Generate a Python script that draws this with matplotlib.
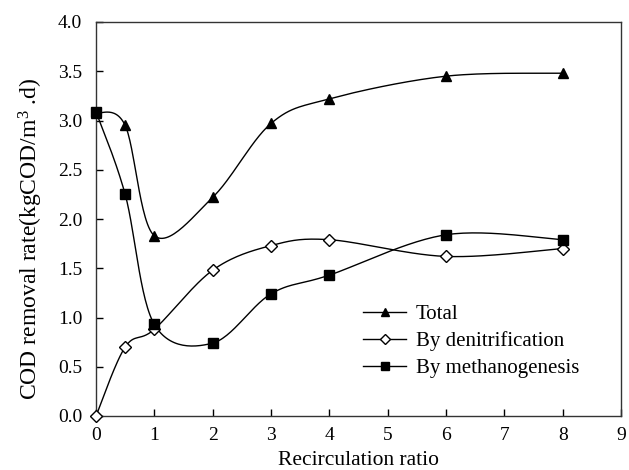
import numpy as np
import matplotlib
matplotlib.use("Agg")
import matplotlib.pyplot as plt
from matplotlib.lines import Line2D

plt.rcParams['font.family'] = ['Liberation Serif', 'DejaVu Serif']
plt.rcParams['mathtext.fontset'] = 'custom'
plt.rcParams['mathtext.rm'] = 'Liberation Serif'
plt.rcParams['mathtext.default'] = 'regular'

ratio = [0, 0.5, 1, 2, 3, 4, 6, 8]
total = [3.08, 2.95, 1.83, 2.22, 2.97, 3.22, 3.45, 3.48]
denitrification = [0.0, 0.70, 0.88, 1.48, 1.73, 1.79, 1.62, 1.70]
methanogenesis = [3.09, 2.25, 0.93, 0.74, 1.24, 1.43, 1.84, 1.79]
labels = ['Total', 'By denitrification', 'By methanogenesis']


def smooth(x, y, n=30):
    x = np.asarray(x, float)
    y = np.asarray(y, float)
    P = np.column_stack([x, y])
    out = []
    m = len(P)
    for i in range(m - 1):
        p0 = P[i - 1] if i > 0 else P[i]
        p1 = P[i]
        p2 = P[i + 1]
        p3 = P[i + 2] if i + 2 < m else P[i + 1]
        c1 = p1 + (p2 - p0) / 6.0
        c2 = p2 - (p3 - p1) / 6.0
        t = np.linspace(0, 1, n)[:, None]
        seg = ((1 - t) ** 3) * p1 + 3 * ((1 - t) ** 2) * t * c1 + 3 * (1 - t) * t ** 2 * c2 + t ** 3 * p2
        out.append(seg if i == 0 else seg[1:])
    s = np.vstack(out)
    return s[:, 0], s[:, 1]


fig = plt.figure(figsize=(6.29, 4.70), dpi=100)
ax = fig.add_axes([96 / 629, 54 / 470, 525 / 629, 394 / 470])

styles = [
    dict(marker='^', markerfacecolor='black', markersize=7.5),
    dict(marker='D', markerfacecolor='white', markersize=6.5),
    dict(marker='s', markerfacecolor='black', markersize=6.5),
]
legend_sizes = [6.0, 5.5, 5.5]
handles = []
for vals, label, mk, ls in zip([total, denitrification, methanogenesis], labels, styles, legend_sizes):
    sx, sy = smooth(ratio, vals)
    ax.plot(sx, sy, color='black', lw=1.0, zorder=2)
    ax.plot(ratio, vals, linestyle='none', color='black', markeredgecolor='black',
            markeredgewidth=1.0, zorder=3, clip_on=False, **mk)
    hk = dict(mk)
    hk['markersize'] = ls
    handles.append(Line2D([], [], color='black', lw=1.0, markeredgecolor='black',
                          markeredgewidth=1.0, label=label, **hk))

ax.set_xlim(0, 9)
ax.set_ylim(0, 4.0)
ax.set_xticks(range(0, 10))
yt = np.arange(0, 4.01, 0.5)
ax.set_yticks(yt)
ax.set_yticklabels([f'{v:.1f}' for v in yt])
ax.tick_params(direction='in', length=5, width=1, labelsize=14, top=False, right=False)
ax.tick_params(axis='x', pad=8)
ax.tick_params(axis='y', pad=10)
for sp in ax.spines.values():
    sp.set_linewidth(1.0)
    sp.set_color('#333333')

ax.set_xlabel('Recirculation ratio', fontsize=15.5, labelpad=5)
ax.set_ylabel('COD removal rate(kgCOD/m$^{3}$ .d)', fontsize=17)
ax.yaxis.set_label_coords(-0.097, 0.45)

ax.legend(handles=handles, loc='center left', bbox_to_anchor=(0.508, 0.19), frameon=False,
          fontsize=15, handlelength=2.1, handletextpad=0.45, labelspacing=0.35,
          borderpad=0, borderaxespad=0)

fig.savefig('out.png', dpi=100)
